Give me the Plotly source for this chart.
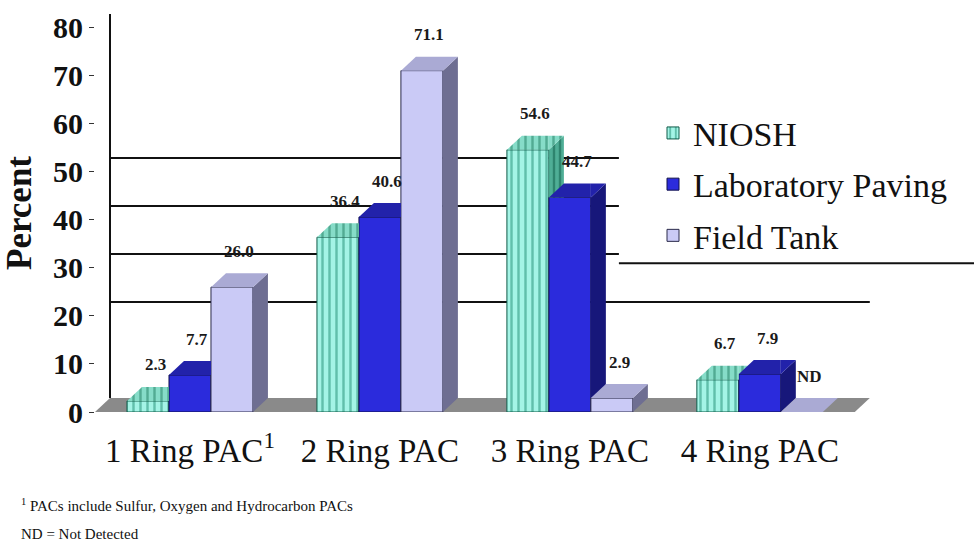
import plotly.graph_objects as go

# ---- data -------------------------------------------------------------
categories = ["1 Ring PAC<sup>1</sup>", "2 Ring PAC", "3 Ring PAC", "4 Ring PAC"]
series_names = ["NIOSH", "Laboratory Paving", "Field Tank"]
niosh = [2.3, 36.4, 54.6, 6.7]
lab_paving = [7.7, 40.6, 44.7, 7.9]
field_tank = [26.0, 71.1, 2.9, None]          # None -> not detected (ND)
y_ticks = [0, 10, 20, 30, 40, 50, 60, 70, 80]
gridline_levels = [20, 30, 40, 50]
footnotes = ["<sup>1</sup> PACs include Sulfur, Oxygen and Hydrocarbon PACs",
             "ND = Not Detected"]

series_values = [niosh, lab_paving, field_tank]

# ---- geometry of the pseudo-3D frame ---------------------------------
FIG_W, FIG_H = 974, 543
MARGIN = dict(l=95, r=104, t=14, b=131)
X_RANGE = [-0.5, 3.58]
Y_RANGE = [0, 82.9]
PX_PER_X = (FIG_W - MARGIN["l"] - MARGIN["r"]) / (X_RANGE[1] - X_RANGE[0])
PX_PER_Y = (FIG_H - MARGIN["t"] - MARGIN["b"]) / (Y_RANGE[1] - Y_RANGE[0])
DEPTH_X = 15 / PX_PER_X       # depth of the bars, shifted right ...
DEPTH_Y = 14 / PX_PER_Y       # ... and up
BAR_W = 0.221
OFFSETS = [-1.5 * BAR_W, -0.5 * BAR_W, 0.5 * BAR_W]

SERIF = "Liberation Serif"

styles = [
    dict(front=dict(color="#a4f4e6", pattern=dict(shape="|", fgcolor="#1d8a70", bgcolor="#a4f4e6",
                                                   size=7, solidity=0.35)),
         top=dict(shape="|", fgcolor="#1d7a5e", bgcolor="#86dcc8", size=7, solidity=0.35),
         side=dict(shape="|", fgcolor="#0e5a46", bgcolor="#4fae96", size=6, solidity=0.4),
         outline="#0f5a48"),
    dict(front=dict(color="#2b2bdc"), top="#2222aa", side="#17177a", outline="#10104a"),
    dict(front=dict(color="#cacaf6"), top="#aaaad4", side="#6e6e92", outline="#2a2a4a"),
]


def clip_half(poly, axis, bound, keep_ge):
    """Sutherland-Hodgman clip of a polygon against one axis-aligned half-plane."""
    def inside(p):
        return p[axis] >= bound if keep_ge else p[axis] <= bound

    out = []
    n = len(poly)
    for i in range(n):
        cur, nxt = poly[i], poly[(i + 1) % n]
        cin, nin = inside(cur), inside(nxt)
        if cin:
            out.append(cur)
        if cin != nin:
            t = (bound - cur[axis]) / (nxt[axis] - cur[axis])
            out.append((cur[0] + t * (nxt[0] - cur[0]), cur[1] + t * (nxt[1] - cur[1])))
    return out


def area(poly):
    s = 0.0
    for i in range(len(poly)):
        x0, y0 = poly[i]
        x1, y1 = poly[(i + 1) % len(poly)]
        s += x0 * y1 - x1 * y0
    return abs(s) / 2


def visible_parts(poly, split_x, next_h):
    """Part of a face that is not hidden behind the front of the bar to its right."""
    if next_h is None:
        return [poly]
    left = clip_half(poly, 0, split_x, False)
    right = clip_half(clip_half(poly, 0, split_x, True), 1, next_h, True)
    return [p for p in (left, right) if len(p) >= 3 and area(p) > 1e-9]


fig = go.Figure()

# front faces: ordinary bars
for k, name in enumerate(series_names):
    vals = [v if v is not None else 0 for v in series_values[k]]
    st = styles[k]
    marker = dict(color=st["front"]["color"], line=dict(color=st["outline"], width=1))
    if "pattern" in st["front"]:
        marker["pattern"] = st["front"]["pattern"]
    fig.add_trace(go.Bar(
        x=list(range(len(categories))), y=vals, name=name, width=BAR_W,
        offset=OFFSETS[k], marker=marker, legendgroup=name, hoverinfo="skip",
    ))

# side and top faces, painted left to right so nearer faces overlap
for g in range(len(categories)):
    for k in range(len(series_names)):
        v = series_values[k][g] or 0
        x0 = g + OFFSETS[k]
        x1 = x0 + BAR_W
        nxt = None
        if k + 1 < len(series_names):
            nxt = series_values[k + 1][g] or 0
        side = [(x1, 0), (x1 + DEPTH_X, DEPTH_Y), (x1 + DEPTH_X, v + DEPTH_Y), (x1, v)]
        top = [(x0, v), (x1, v), (x1 + DEPTH_X, v + DEPTH_Y), (x0 + DEPTH_X, v + DEPTH_Y)]
        st = styles[k]
        for face_name, face in (("side", side), ("top", top)):
            for part in visible_parts(face, x1, nxt):
                xs = [p[0] for p in part] + [part[0][0]]
                ys = [p[1] for p in part] + [part[0][1]]
                look = st[face_name]
                kw = dict(x=xs, y=ys, mode="none", fill="toself", showlegend=False,
                          hoverinfo="skip")
                if isinstance(look, dict):
                    kw["fillcolor"] = look["bgcolor"]
                    kw["fillpattern"] = look
                else:
                    kw["fillcolor"] = look
                fig.add_trace(go.Scatter(**kw))

# value labels above each bar
annotations = []
for k in range(len(series_names)):
    for g, v in enumerate(series_values[k]):
        annotations.append(dict(
            x=g + OFFSETS[k] + BAR_W / 2 + DEPTH_X / 2, y=(v or 0) + DEPTH_Y,
            xref="x", yref="y", text=f"{v:.1f}" if v is not None else "ND",
            showarrow=False, yanchor="middle", yshift=22,
            font=dict(family=SERIF, size=17, color="#1a1a1a", weight="bold"),
        ))

# footnotes under the category labels
for i, note in enumerate(footnotes):
    annotations.append(dict(
        x=-0.098, y=-0.234 - 0.073 * i, xref="paper", yref="paper", xanchor="left",
        yanchor="middle", text=note, showarrow=False,
        font=dict(family=SERIF, size=15, color="#111111"),
    ))

shapes = []
# floor of the chart
floor_path = (f"M {X_RANGE[0]},0 L 3.5,0 L {3.5 + DEPTH_X},{DEPTH_Y} "
              f"L {X_RANGE[0] + DEPTH_X},{DEPTH_Y} Z")
shapes.append(dict(type="path", path=floor_path, xref="x", yref="y",
                   fillcolor="#8a8a8a", line=dict(width=0), layer="below"))
# gridlines on the back wall
for lvl in gridline_levels:
    shapes.append(dict(type="line", xref="x", yref="y", x0=X_RANGE[0] + DEPTH_X,
                       x1=3.5 + DEPTH_X, y0=lvl + DEPTH_Y, y1=lvl + DEPTH_Y,
                       line=dict(color="#111111", width=2), layer="below"))
# back wall vertical axis
shapes.append(dict(type="line", xref="x", yref="y", x0=X_RANGE[0] + DEPTH_X,
                   x1=X_RANGE[0] + DEPTH_X, y0=DEPTH_Y, y1=Y_RANGE[1],
                   line=dict(color="#111111", width=2), layer="below"))
# white legend panel with its bottom rule
shapes.append(dict(type="rect", xref="paper", yref="paper", x0=0.676, x1=1.16,
                   y0=0.376, y1=0.75, fillcolor="white", line=dict(width=0), layer="above"))
shapes.append(dict(type="line", xref="paper", yref="paper", x0=0.676, x1=1.16,
                   y0=0.374, y1=0.374, line=dict(color="#111111", width=2)))

fig.update_layout(
    width=FIG_W, height=FIG_H, margin=MARGIN,
    paper_bgcolor="white", plot_bgcolor="white",
    barmode="overlay",
    showlegend=True,
    legend=dict(x=0.72, y=0.773, xanchor="left", yanchor="top",
                bgcolor="rgba(0,0,0,0)", tracegroupgap=4,
                font=dict(family=SERIF, size=34, color="#111111")),
    xaxis=dict(range=X_RANGE, tickvals=list(range(len(categories))), ticktext=categories,
               showgrid=False, zeroline=False, showline=False, ticks="",
               ticklabelstandoff=16,
               tickfont=dict(family=SERIF, size=33, color="#111111")),
    yaxis=dict(range=Y_RANGE, tickvals=y_ticks, showgrid=False, zeroline=False,
               showline=False, ticks="outside", ticklen=5, tickcolor="#333333",
               tickfont=dict(family=SERIF, size=30, color="#111111", weight="bold"),
               title=dict(text="Percent", standoff=12,
                          font=dict(family=SERIF, size=35, color="#111111", weight="bold"))),
    annotations=annotations,
    shapes=shapes,
)

fig.write_html("out.html")
